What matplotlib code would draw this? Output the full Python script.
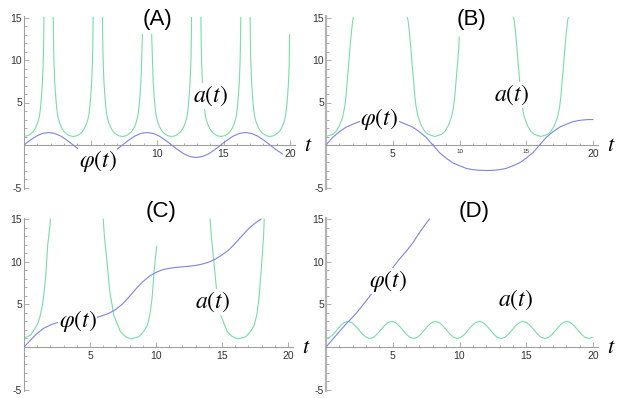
import numpy as np
import matplotlib
matplotlib.use("Agg")
import matplotlib.pyplot as plt

nan = np.nan

# ---- (A) small oscillation ----
tA_phi = np.arange(0, 19.43, 0.4625)
phiA = [0, .56, 1.04, 1.36, 1.47, 1.36, 1.04, .56, 0, -.56, -1.04, -1.36, -1.47, -1.36, -1.04, -.56,
        0, .56, 1.04, 1.36, 1.47, 1.36, 1.04, .56, 0, -.56, -1.04, -1.36, -1.47, -1.36, -1.04, -.56,
        0, .56, 1.04, 1.36, 1.47, 1.36, 1.04, .56, 0, -.56, -1.04]
tA_a = [0, 0.3, 0.55, 0.7, 0.85, 1.0, 1.1, 1.17, 1.25, 1.32, 1.39, 1.44, 1.47, 1.5, nan,
        2.2, 2.23, 2.26, 2.31, 2.38, 2.45, 2.53, 2.6, 2.7, 2.85, 3.0, 3.15, 3.4, 3.7,
        4.0, 4.25, 4.4, 4.55, 4.7, 4.8, 4.87, 4.95, 5.02, 5.09, 5.14, 5.17, 5.2, nan,
        5.9, 5.93, 5.96, 6.01, 6.08, 6.15, 6.23, 6.3, 6.4, 6.55, 6.7, 6.85, 7.1, 7.4,
        7.7, 7.95, 8.1, 8.25, 8.4, 8.5, 8.57, 8.65, 8.72, 8.79, 8.84, 8.87, 8.9, nan,
        9.6, 9.63, 9.66, 9.71, 9.78, 9.85, 9.93, 10.0, 10.1, 10.25, 10.4, 10.55, 10.8, 11.1,
        11.4, 11.65, 11.8, 11.95, 12.1, 12.2, 12.27, 12.35, 12.42, 12.49, 12.54, 12.57, 12.6, nan,
        13.3, 13.33, 13.36, 13.41, 13.48, 13.55, 13.63, 13.7, 13.8, 13.95, 14.1, 14.25, 14.5, 14.8,
        15.1, 15.35, 15.5, 15.65, 15.8, 15.9, 15.97, 16.05, 16.12, 16.19, 16.24, 16.27, 16.3, nan,
        17.0, 17.03, 17.06, 17.11, 17.18, 17.25, 17.33, 17.4, 17.5, 17.65, 17.8, 17.95, 18.2, 18.5,
        18.8, 19.05, 19.2, 19.35, 19.5, 19.6, 19.67, 19.75, 19.82, 19.89, 19.94, 19.97]
aA = [1.0, 1.1, 1.37, 1.6, 1.96, 2.5, 3.0, 3.5, 4.5, 5.8, 7.45, 9.5, 11.4, 15, nan,
      15, 11.4, 9.5, 7.45, 5.8, 4.5, 3.5, 3.0, 2.5, 1.96, 1.6, 1.37, 1.1, 1.0,
      1.1, 1.37, 1.6, 1.96, 2.5, 3.0, 3.5, 4.5, 5.8, 7.45, 9.5, 11.4, 15, nan,
      15, 11.4, 9.5, 7.45, 5.8, 4.5, 3.5, 3.0, 2.5, 1.96, 1.6, 1.37, 1.1, 1.0,
      1.1, 1.37, 1.6, 1.96, 2.5, 3.0, 3.5, 4.5, 5.8, 7.45, 9.5, 11.4, 13, nan,
      13, 11.4, 9.5, 7.45, 5.8, 4.5, 3.5, 3.0, 2.5, 1.96, 1.6, 1.37, 1.1, 1.0,
      1.1, 1.37, 1.6, 1.96, 2.5, 3.0, 3.5, 4.5, 5.8, 7.45, 9.5, 11.4, 15, nan,
      15, 11.4, 9.5, 7.45, 5.8, 4.5, 3.5, 3.0, 2.5, 1.96, 1.6, 1.37, 1.1, 1.0,
      1.1, 1.37, 1.6, 1.96, 2.5, 3.0, 3.5, 4.5, 5.8, 7.45, 9.5, 11.4, 15, nan,
      15, 11.4, 9.5, 7.45, 5.8, 4.5, 3.5, 3.0, 2.5, 1.96, 1.6, 1.37, 1.1, 1.0,
      1.1, 1.37, 1.6, 1.96, 2.5, 3.0, 3.5, 4.5, 5.8, 7.45, 9.5, 13]

# ---- (B) large oscillation ----
tB_phi = np.arange(0, 20.01, 0.5)
phiB = [0, .9, 1.55, 2.1, 2.44, 2.75, 2.9, 2.98, 3.0,
        2.98, 2.9, 2.75, 2.44, 2.1, 1.55, .9, 0,
        -.9, -1.55, -2.1, -2.44, -2.75, -2.9, -2.98, -3.0,
        -2.98, -2.9, -2.75, -2.44, -2.1, -1.55, -.9, 0,
        .9, 1.55, 2.1, 2.44, 2.75, 2.9, 2.98, 3.0]
tB_a = [0, 0.5, 0.75, 1.0, 1.25, 1.4, 1.5, 1.6, 1.7, 1.8, 1.9, 2.0, 2.05, nan,
        6.1, 6.15, 6.25, 6.35, 6.45, 6.55, 6.65, 6.75, 6.9, 7.15, 7.4, 7.65, 8.15,
        8.65, 8.9, 9.15, 9.4, 9.55, 9.65, 9.75, 9.85, 9.95, 9.98, nan,
        14.05, 14.1, 14.2, 14.3, 14.4, 14.5, 14.6, 14.7, 14.85, 15.1, 15.35, 15.6, 16.1,
        16.6, 16.85, 17.1, 17.35, 17.5, 17.6, 17.7, 17.8, 17.9, 18.0, 18.1, 18.15]
aB = [1.0, 1.25, 1.6, 2.25, 3.3, 4.5, 5.8, 7.7, 9.5, 11.5, 13.2, 14.6, 15, nan,
      15, 14.6, 13.2, 11.5, 9.5, 7.7, 5.8, 4.5, 3.3, 2.25, 1.6, 1.25, 1.0,
      1.25, 1.6, 2.25, 3.3, 4.5, 5.8, 7.7, 9.5, 11.5, 12.7, nan,
      15, 14.6, 13.2, 11.5, 9.5, 7.7, 5.8, 4.5, 3.3, 2.25, 1.6, 1.25, 1.0,
      1.25, 1.6, 2.25, 3.3, 4.5, 5.8, 7.7, 9.5, 11.5, 13.2, 14.6, 15]

# ---- (C) rotation just above separatrix ----
tC_phi = [0, 0.5, 1, 1.5, 2, 2.5, 3, 3.5, 4, 4.5, 5, 5.5, 6, 6.5, 7, 7.5, 8, 8.5, 9, 9.5,
          10, 10.5, 11, 11.5, 12, 12.5, 13, 13.5, 14, 14.5, 15, 15.5, 16, 16.5, 17, 17.5, 17.95]
phiC = [0, 0.82, 1.6, 2.2, 2.58, 2.85, 3.0, 3.08, 3.14, 3.2, 3.3, 3.45, 3.7, 4.0, 4.45, 5.1,
        5.95, 6.85, 7.65, 8.3, 8.75, 9.05, 9.22, 9.33, 9.4, 9.47, 9.56, 9.72, 9.95, 10.3, 10.8,
        11.35, 12.15, 13.0, 13.85, 14.5, 15.0]
tC_a = [0, 0.5, 1.0, 1.2, 1.4, 1.55, 1.65, 1.8, 1.97, 2.0, nan,
        6.0, 6.1, 6.26, 6.5, 6.8, 7.3, 7.7, 8.1, 8.7, 9.1, 9.35, 9.55, 9.7, 9.9, 10.05, nan,
        14.1, 14.2, 14.36, 14.6, 14.9, 15.4, 15.8, 16.2, 16.8, 17.2, 17.45, 17.65, 17.8, 18.0, 18.15, 18.2]
aC = [1.0, 1.4, 2.58, 3.5, 4.9, 6.8, 8.4, 12.0, 14.3, 15, nan,
      15, 12.8, 10.4, 6.5, 3.75, 1.8, 1.2, 0.95, 1.2, 1.9, 2.58, 3.9, 5.7, 9.6, 11.8, nan,
      15, 12.8, 10.4, 6.5, 3.75, 1.8, 1.2, 0.95, 1.2, 1.9, 2.58, 3.9, 5.7, 9.6, 13.0, 15]

# ---- (D) fast rotation ----
tD_phi = [0, 0.5, 1, 1.5, 2, 2.5, 3, 3.5, 4, 4.5, 5, 5.5, 6, 6.5, 7, 7.5, 7.75]
phiD = [0, 0.9, 1.8, 2.7, 3.5, 4.4, 5.4, 6.4, 7.2, 8.1, 9.3, 10.3, 11.2, 12.2, 13.4, 14.5, 15.0]
tD_a = np.arange(0, 19.96, 0.2733)
aD = [1.0, 1.13, 1.5, 2.0, 2.5, 2.87, 3.0, 2.87, 2.5, 2.0, 1.5, 1.13] * 6 + [1.0, 1.13]
aD = aD[:len(tD_a)]

titles = ["(A)", "(B)", "(C)", "(D)"]
label_phi = [(5.53, -1.88), (4.0, 3.06), (4.05, 3.05), (4.64, 7.74)]
label_a = [(14.06, 5.76), (13.93, 5.88), (14.3, 5.27), (14.16, 5.51)]
xticklabels = [["", "10", "15", "20"], ["5", "10", "15", "20"],
               ["5", "10", "15", "20"], ["5", "10", "15", "20"]]

green = "#78dea3"
blue = "#7c84e2"
axcol = "#a0a0a0"

plt.rcParams["font.family"] = ["Liberation Sans", "DejaVu Sans"]
plt.rcParams["mathtext.fontset"] = "stix"

W, H = 623, 398
fig = plt.figure(figsize=(W / 100, H / 100), dpi=100)

# (origin x px, px per unit x, origin y px, px per unit y, title x px, title y px)
geom = [(24, 13.3, 145, 8.5, 157, 20),
        (326, 13.35, 145, 8.5, 471, 20),
        (24, 13.2, 347, 8.53, 161, 212),
        (326, 13.35, 347, 8.53, 474, 212)]
xmax, ymin, ymax = 20.4, -5.15, 15.15

data = [(tA_phi, phiA, tA_a, aA), (tB_phi, phiB, tB_a, aB),
        (tC_phi, phiC, tC_a, aC), (tD_phi, phiD, tD_a, aD)]

for i, (ox, sx, oy, sy, tx, ty) in enumerate(geom):
    left = ox / W
    bottom = 1 - (oy - ymin * sy) / H
    ax = fig.add_axes([left, bottom, xmax * sx / W, (ymax - ymin) * sy / H])
    ax.set_xlim(0, xmax)
    ax.set_ylim(ymin, ymax)
    ax.patch.set_alpha(0)
    for s in ["top", "right"]:
        ax.spines[s].set_visible(False)
    for s in ["left", "bottom"]:
        ax.spines[s].set_position(("data", 0))
        ax.spines[s].set_color(axcol)
        ax.spines[s].set_linewidth(0.8)
    if i in (1, 3):
        ax.spines["left"].set_linewidth(1.6)
        ax.spines["left"].set_color("#b4b4b4")
    ax.set_xticks([5, 10, 15, 20])
    ax.set_xticks(range(1, 21), minor=True)
    ax.set_yticks([-5, 5, 10, 15])
    ax.set_yticks(range(-5, 16), minor=True)
    ax.tick_params(which="both", direction="in", color=axcol, width=0.6)
    ax.tick_params(which="major", length=3.5, labelsize=7.5, labelcolor="#333333")
    ax.tick_params(which="minor", length=1.8)
    ax.tick_params(axis="x", pad=3)
    ax.tick_params(axis="y", pad=1.5)
    xl = ax.set_xticklabels(xticklabels[i])
    ax.set_yticklabels(["-5", "5", "10", "15"])
    if i == 1:
        xl[1].set_fontsize(4.5)
        xl[2].set_fontsize(4.5)

    tp, p, ta, a = data[i]
    ax.plot(ta, a, color=green, lw=0.8, zorder=2)
    ax.plot(tp, p, color=blue, lw=0.8, zorder=3)

    box = dict(facecolor="white", edgecolor="none", pad=0.3)
    ax.text(*label_phi[i], r"$\varphi(t)$", fontsize=17,
            ha="center", va="center", bbox=box, zorder=6)
    ax.text(*label_a[i], r"$a(t)$", fontsize=17,
            ha="center", va="center", bbox=box, zorder=6)
    ax.text(21.4, 0, r"$t$", fontsize=16, ha="center", va="center", clip_on=False)

    fig.text(tx / W, 1 - ty / H, titles[i], fontsize=16, ha="center", va="center")

fig.savefig("out.png", dpi=100)
